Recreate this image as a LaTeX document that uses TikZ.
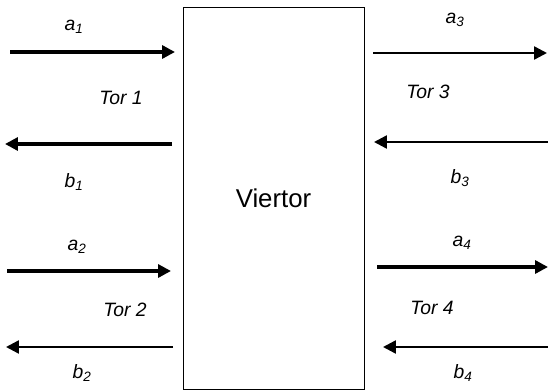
\documentclass[tikz,border=0pt]{standalone}
\usepackage{fontspec}
\setmainfont{Liberation Sans}
\usetikzlibrary{arrows.meta, positioning}

\tikzset{
    port/.style={-{Triangle[length=11pt, width=11pt]}, line width=3pt},
    portthin/.style={-{Triangle[length=11pt, width=11pt]}, line width=2.1pt},
    lbl/.style={font=\fontsize{16.5}{19}\selectfont\itshape, inner sep=0pt}
}

\begin{document}
\begin{tikzpicture}[x=0.03cm, y=-0.03cm]
                    \useasboundingbox (0, 0) rectangle (548, 391);
                    \node[draw, line width=0.8pt, minimum width=5.43cm, minimum height=11.46cm, inner sep=0pt, font=\fontsize{22}{26}\selectfont] (viertor) at (273.5, 198) {Viertor};

                    \coordinate (a1s) at (10, 52);   \coordinate (a1e) at (175, 52);
                    \coordinate (b1s) at (172, 144); \coordinate (b1e) at (5, 144);
                    \coordinate (a2s) at (7, 271);   \coordinate (a2e) at (171, 271);
                    \coordinate (b2s) at (173, 347); \coordinate (b2e) at (6, 347);
                    \coordinate (a3s) at (373, 53);  \coordinate (a3e) at (547, 53);
                    \coordinate (b3s) at (548, 142); \coordinate (b3e) at (374, 142);
                    \coordinate (a4s) at (377, 267); \coordinate (a4e) at (548, 267);
                    \coordinate (b4s) at (548, 347); \coordinate (b4e) at (383, 347);

                    \draw[port] (a1s) -- (a1e);
                    \draw[port] (b1s) -- (b1e);
                    \draw[port] (a2s) -- (a2e);
                    \draw[portthin] (b2s) -- (b2e);
                    \draw[portthin] (a3s) -- (a3e);
                    \draw[portthin] (b3s) -- (b3e);
                    \draw[port] (a4s) -- (a4e);
                    \draw[portthin] (b4s) -- (b4e);

                    \node[lbl] (a1) at (74, 27) {a\textsubscript{1}};
                    \node[lbl] (b1) at (74, 182) {b\textsubscript{1}};
                    \node[lbl] (t1) at (121, 98) {Tor 1};
                    \node[lbl] (a2) at (77, 247) {a\textsubscript{2}};
                    \node[lbl] (b2) at (82, 373) {b\textsubscript{2}};
                    \node[lbl] (t2) at (125, 310) {Tor 2};
                    \node[lbl] (a3) at (455, 20) {a\textsubscript{3}};
                    \node[lbl] (b3) at (460, 178) {b\textsubscript{3}};
                    \node[lbl] (t3) at (428, 92) {Tor 3};
                    \node[lbl] (a4) at (462, 243) {a\textsubscript{4}};
                    \node[lbl] (b4) at (463, 373) {b\textsubscript{4}};
                    \node[lbl] (t4) at (432, 308) {Tor 4};
                \end{tikzpicture}
\end{document}
